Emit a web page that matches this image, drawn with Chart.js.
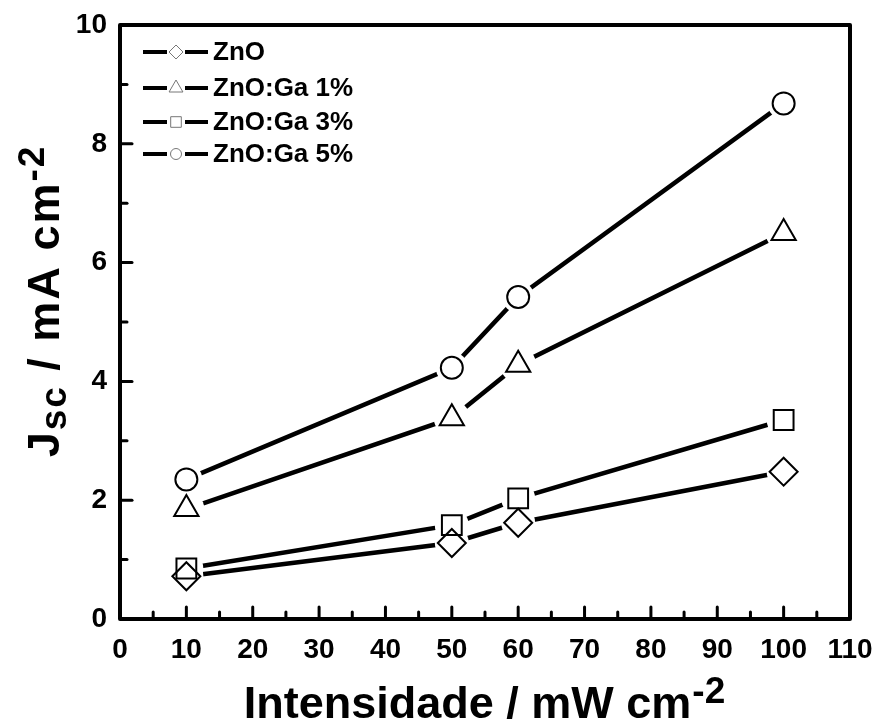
<!DOCTYPE html>
<html>
<head>
<meta charset="utf-8">
<script src="https://cdn.jsdelivr.net/npm/chart.js@4.4.1/dist/chart.umd.min.js"></script>
<style>
html,body{margin:0;padding:0;background:#fff;}
#wrap{position:relative;width:877px;height:722px;}
</style>
</head>
<body>
<div id="wrap"><canvas id="c" width="877" height="722"></canvas></div>
<script>
// ---- data ----
const intensities = [10, 50, 60, 100];
const seriesNames = ['ZnO', 'ZnO:Ga 1%', 'ZnO:Ga 3%', 'ZnO:Ga 5%'];
const znO    = [0.72, 1.28, 1.62, 2.48];
const ga1    = [1.85, 3.38, 4.28, 6.50];
const ga3    = [0.85, 1.58, 2.03, 3.35];
const ga5    = [2.35, 4.23, 5.42, 8.68];
const xTicks = [0, 10, 20, 30, 40, 50, 60, 70, 80, 90, 100, 110];
const yTicks = [0, 2, 4, 6, 8, 10];

const seriesValues = [znO, ga1, ga3, ga5];
const styles = [
  {ps: 'rectRot', r: 14},
  {ps: 'triangle', r: 14},
  {ps: 'rect', r: 14},
  {ps: 'circle', r: 11}
];
const haloRadius = [17, 18, 17, 16];
const legendStyles = [
  {ps: 'rectRot', r: 7},
  {ps: 'triangle', r: 8},
  {ps: 'rect', r: 7.5},
  {ps: 'circle', r: 5.5}
];
const FONT = '"Liberation Sans", Arial, sans-serif';

function pts(vals){ return intensities.map((x,i)=>({x:x, y:vals[i]})); }

const datasets = [];
// connecting lines
seriesValues.forEach((vals, i) => {
  datasets.push({
    label: seriesNames[i],
    data: pts(vals),
    borderColor: '#000',
    borderWidth: 4.5,
    showLine: true,
    pointRadius: 0,
    order: 5
  });
});
// white halos (gap between line ends and markers)
seriesValues.forEach((vals, i) => {
  datasets.push({
    label: seriesNames[i] + ' halo',
    data: pts(vals),
    showLine: false,
    pointStyle: 'circle',
    pointRadius: haloRadius[i],
    pointBackgroundColor: '#ffffff',
    pointBorderColor: '#ffffff',
    pointBorderWidth: 0,
    order: 3
  });
});
// open markers on top
seriesValues.forEach((vals, i) => {
  datasets.push({
    label: seriesNames[i] + ' marker',
    data: pts(vals),
    showLine: false,
    pointStyle: styles[i].ps,
    pointRadius: styles[i].r,
    pointBackgroundColor: 'rgba(0,0,0,0)',
    pointBorderColor: '#000',
    pointBorderWidth: 2,
    order: 1
  });
});

const decor = {
  id: 'decor',
  afterDraw(chart) {
    const ctx = chart.ctx;
    const a = chart.chartArea;
    const xs = chart.scales.x, ys = chart.scales.y;
    ctx.save();
    // frame
    ctx.strokeStyle = '#000';
    ctx.lineWidth = 4;
    ctx.lineJoin = 'round';
    ctx.strokeRect(a.left, a.top, a.right - a.left, a.bottom - a.top);
    // inward ticks
    ctx.lineWidth = 3;
    ctx.lineCap = 'round';
    for (let v = 5; v < 110; v += 5) {
      const p = xs.getPixelForValue(v);
      const len = (v % 10 === 0) ? 12 : 7;
      ctx.beginPath(); ctx.moveTo(p, a.bottom); ctx.lineTo(p, a.bottom - len); ctx.stroke();
    }
    for (let v = 1; v < 10; v += 1) {
      const p = ys.getPixelForValue(v);
      const len = (v % 2 === 0) ? 12 : 7;
      ctx.beginPath(); ctx.moveTo(a.left, p); ctx.lineTo(a.left + len, p); ctx.stroke();
    }
    // legend
    const rowsY = [52, 88, 122, 154];
    seriesNames.forEach((name, i) => {
      const y = rowsY[i];
      ctx.strokeStyle = '#000';
      ctx.lineWidth = 4;
      ctx.lineCap = 'butt';
      ctx.beginPath(); ctx.moveTo(143, y); ctx.lineTo(167, y); ctx.stroke();
      ctx.beginPath(); ctx.moveTo(185, y); ctx.lineTo(208, y); ctx.stroke();
      ctx.fillStyle = '#fff';
      ctx.strokeStyle = '#777';
      ctx.lineWidth = 1;
      Chart.helpers.drawPoint(ctx, {
        pointStyle: legendStyles[i].ps, radius: legendStyles[i].r, rotation: 0, borderWidth: 1
      }, 176, y);
      ctx.fillStyle = '#000';
      ctx.font = 'bold 26px ' + FONT;
      ctx.textBaseline = 'middle';
      ctx.textAlign = 'left';
      ctx.fillText(name, 213, y + 1);
    });
    // x title
    ctx.fillStyle = '#000';
    ctx.textBaseline = 'alphabetic';
    ctx.textAlign = 'left';
    const mainX = 'Intensidade / mW cm', supX = '-2';
    ctx.font = 'bold 45px ' + FONT;
    const wMain = ctx.measureText(mainX).width;
    ctx.font = 'bold 37px ' + FONT;
    const wSup = ctx.measureText(supX).width;
    let sx = 484 - (wMain + wSup) / 2;
    ctx.font = 'bold 45px ' + FONT;
    ctx.fillText(mainX, sx, 718);
    ctx.font = 'bold 37px ' + FONT;
    ctx.fillText(supX, sx + wMain + 1, 703);
    // y title
    ctx.save();
    ctx.translate(59, 301);
    ctx.rotate(-Math.PI / 2);
    try { ctx.letterSpacing = '2px'; } catch (e) {}
    const parts = [
      {t: 'J', f: 45, dy: 0},
      {t: 'sc', f: 37, dy: 7},
      {t: ' / mA cm', f: 45, dy: 0},
      {t: '-2', f: 37, dy: -15}
    ];
    let total = 0;
    parts.forEach(p => { ctx.font = 'bold ' + p.f + 'px ' + FONT; p.w = ctx.measureText(p.t).width; total += p.w; });
    let cx = -total / 2;
    parts.forEach(p => { ctx.font = 'bold ' + p.f + 'px ' + FONT; ctx.fillText(p.t, cx, p.dy); cx += p.w; });
    ctx.restore();
    ctx.restore();
  }
};

new Chart(document.getElementById('c'), {
  type: 'scatter',
  data: { datasets: datasets },
  options: {
    responsive: false,
    animation: false,
    events: [],
    layout: { padding: { left: 0, right: 27, top: 25, bottom: 0 } },
    plugins: { legend: { display: false }, tooltip: { enabled: false } },
    scales: {
      x: {
        type: 'linear', min: 0, max: 110,
        afterBuildTicks(s) { s.ticks = xTicks.map(v => ({value: v})); },
        afterFit(s) { s.height = 103; s.paddingLeft = 0; s.paddingRight = 0; },
        grid: { display: false, drawTicks: false },
        border: { display: false },
        ticks: { color: '#000', padding: 14, font: { family: FONT, size: 28, weight: 'bold' } }
      },
      y: {
        type: 'linear', min: 0, max: 10,
        afterBuildTicks(s) { s.ticks = yTicks.map(v => ({value: v})); },
        afterFit(s) { s.width = 120; s.paddingTop = 0; s.paddingBottom = 0; },
        grid: { display: false, drawTicks: false },
        border: { display: false },
        ticks: { color: '#000', padding: 13, font: { family: FONT, size: 28, weight: 'bold' } }
      }
    }
  },
  plugins: [decor]
});
</script>
</body>
</html>
